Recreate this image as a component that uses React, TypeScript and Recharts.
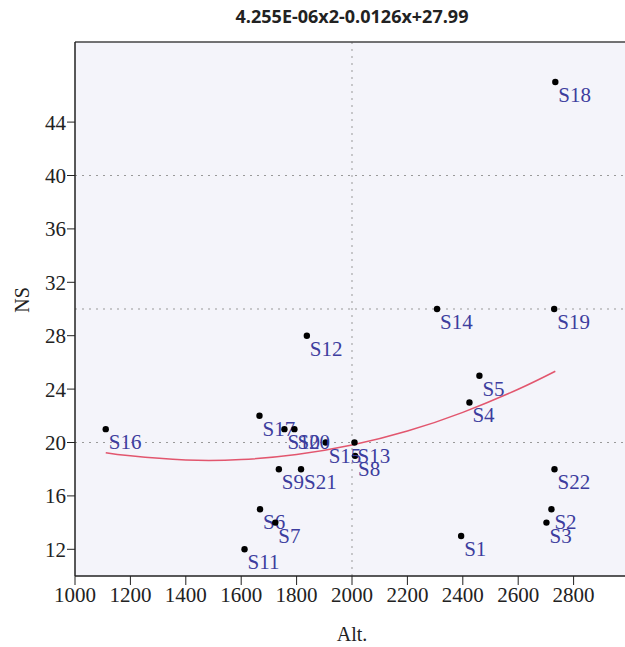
import React from 'react'
import { ComposedChart, Scatter, Line, XAxis, YAxis, CartesianGrid, ReferenceLine, Label } from 'recharts'

// sites (altitude vs NS)
const siteNames = ['S1', 'S2', 'S3', 'S4', 'S5', 'S6', 'S7', 'S8', 'S9', 'S10', 'S11', 'S12', 'S13', 'S14', 'S15', 'S16', 'S17', 'S18', 'S19', 'S20', 'S21', 'S22']
const altitudes = [2394, 2720, 2702, 2424, 2460, 1668, 1723, 2011, 1736, 1756, 1612, 1837, 2009, 2307, 1905, 1111, 1666, 2734, 2730, 1792, 1816, 2731]
const nsValues = [13, 15, 14, 23, 25, 15, 14, 19, 18, 21, 12, 28, 20, 30, 20, 21, 22, 47, 30, 21, 18, 18]

// fitted curve
const curveAlt = [1111, 1200, 1400, 1600, 1800, 2000, 2200, 2400, 2600, 2734]
const curveNs = [19.24, 19.0, 18.69, 18.72, 19.1, 19.81, 20.86, 22.26, 23.99, 25.34]

const xTicks = [1000, 1200, 1400, 1600, 1800, 2000, 2200, 2400, 2600, 2800]
const yTicks = [12, 16, 20, 24, 28, 32, 36, 40, 44]
const gridY = [20, 30, 40]
const gridX = [2000]

const title = '4.255E-06x2-0.0126x+27.99'

const points = siteNames.map((name, i) => ({ name, x: altitudes[i], y: nsValues[i] }))
const curve = curveAlt.map((x, i) => ({ x, y: curveNs[i] }))

const serif = '"Liberation Serif", "Times New Roman", serif'

const SiteDot = (props: any) => {
  const { cx, cy, payload } = props
  return (
    <g>
      <circle cx={cx} cy={cy} r={3.2} fill="#000" />
      <text x={cx + 3} y={cy + 13} dominantBaseline="central" fontFamily={serif} fontSize={21} fill="#3d3d9e">
        {payload.name}
      </text>
    </g>
  )
}

const App = () => {
  return (
    <div style={{ position: 'absolute', left: 0, top: 0, width: 625, height: 647, overflow: 'hidden', background: '#fff' }}>
      <div style={{ position: 'absolute', left: 352, top: 4, transform: 'translateX(-50%)', whiteSpace: 'nowrap', fontFamily: '"Open Sans", sans-serif', fontWeight: 700, fontSize: 18, color: '#222' }}>
        {title}
      </div>
      <ComposedChart width={632} height={647} margin={{ top: 42, right: 3, bottom: 0, left: 0 }}>
        <CartesianGrid fill="#f4f4fa" horizontal={false} vertical={false} />
        <XAxis
          type="number"
          dataKey="x"
          domain={[1000, 3000]}
          ticks={xTicks}
          height={71}
          tickSize={9}
          tickMargin={2}
          tick={{ fill: '#222', fontSize: 21, fontFamily: serif }}
          axisLine={{ stroke: '#222', strokeWidth: 1.5 }}
          tickLine={{ stroke: '#222' }}
          allowDataOverflow
        >
          <Label value="Alt." position="insideBottom" offset={6} style={{ fill: '#222', fontSize: 20, fontFamily: serif }} />
        </XAxis>
        <YAxis
          type="number"
          dataKey="y"
          domain={[10, 50]}
          ticks={yTicks}
          width={75}
          tickSize={8}
          tickMargin={1}
          tick={{ fill: '#222', fontSize: 21, fontFamily: serif }}
          axisLine={{ stroke: '#222', strokeWidth: 1.5 }}
          tickLine={{ stroke: '#222' }}
          allowDataOverflow
        >
          <Label
            content={() => (
              <text x={22} y={300} transform="rotate(-90 22 300)" textAnchor="middle" dominantBaseline="central" fontFamily={serif} fontSize={20} fill="#222">
                NS
              </text>
            )}
          />
        </YAxis>
        {gridY.map((v) => (
          <ReferenceLine key={'gy' + v} y={v} stroke="#999" strokeDasharray="2 5" />
        ))}
        {gridX.map((v) => (
          <ReferenceLine key={'gx' + v} x={v} stroke="#999" strokeDasharray="2 5" />
        ))}
        <ReferenceLine y={50} stroke="#444" strokeWidth={1.5} />
        <Line data={curve} dataKey="y" type="natural" stroke="#e2566e" strokeWidth={1.5} dot={false} isAnimationActive={false} />
        <Scatter data={points} dataKey="y" shape={SiteDot} isAnimationActive={false} />
      </ComposedChart>
    </div>
  )
}

export default App
